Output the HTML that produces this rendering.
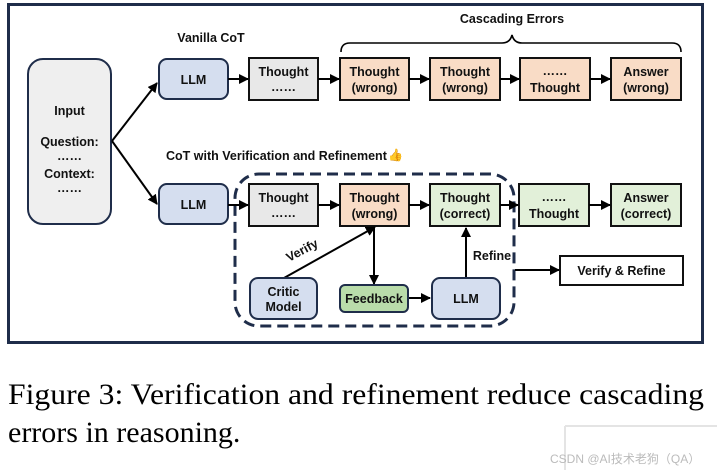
<!DOCTYPE html>
<html><head><meta charset="utf-8"><style>
html,body{margin:0;padding:0;background:#fff;width:717px;height:470px;overflow:hidden}
svg{display:block}
.t{font-family:"Liberation Sans",sans-serif;font-weight:bold;font-size:12.5px;fill:#111;text-anchor:middle}
</style></head><body>
<svg width="717" height="470" viewBox="0 0 717 470" xmlns="http://www.w3.org/2000/svg">
<defs>
<marker id="a" markerWidth="10" markerHeight="10" refX="9" refY="5" orient="auto" markerUnits="userSpaceOnUse">
<path d="M0,0 L10,5 L0,10 z" fill="#000"/></marker>
</defs>
<rect x="8.5" y="4.5" width="694" height="338" fill="#fff" stroke="#1f2d4a" stroke-width="3"/>
<!-- input -->
<rect x="28" y="59" width="83" height="165" rx="15" fill="#efefef" stroke="#1f2d4a" stroke-width="2"/>
<text class="t" x="69.5" y="115">Input</text>
<text class="t" x="69.5" y="146">Question:</text>
<text class="t" x="69.5" y="160">……</text>
<text class="t" x="69.5" y="178">Context:</text>
<text class="t" x="69.5" y="192">……</text>
<line x1="112" y1="141" x2="157" y2="83" stroke="#000" stroke-width="2" marker-end="url(#a)"/>
<line x1="112" y1="141" x2="157" y2="204" stroke="#000" stroke-width="2" marker-end="url(#a)"/>
<text class="t" x="211" y="42">Vanilla CoT</text>
<text class="t" x="512" y="23">Cascading Errors</text>
<path d="M341,52 Q341,43 350,43 L502,43 Q510,43 512,35 Q514,43 522,43 L672,43 Q681,43 681,52" fill="none" stroke="#000" stroke-width="1.6"/>
<!-- top row -->
<rect x="159" y="59" width="69" height="40" rx="8" fill="#d5deef" stroke="#1f2d4a" stroke-width="2"/>
<text class="t" x="193.5" y="84">LLM</text>
<rect x="249" y="58" width="69" height="42" fill="#e8e8e8" stroke="#111" stroke-width="2"/>
<text class="t" x="283.5" y="76">Thought</text><text class="t" x="283.5" y="91">……</text>
<rect x="340" y="58" width="69" height="42" fill="#f9dcc6" stroke="#111" stroke-width="2"/>
<text class="t" x="374.5" y="76">Thought</text><text class="t" x="374.5" y="92">(wrong)</text>
<rect x="430" y="58" width="70" height="42" fill="#f9dcc6" stroke="#111" stroke-width="2"/>
<text class="t" x="465" y="76">Thought</text><text class="t" x="465" y="92">(wrong)</text>
<rect x="520" y="58" width="70" height="42" fill="#f9dcc6" stroke="#111" stroke-width="2"/>
<text class="t" x="555" y="75">……</text><text class="t" x="555" y="92">Thought</text>
<rect x="611" y="58" width="70" height="42" fill="#f9dcc6" stroke="#111" stroke-width="2"/>
<text class="t" x="646" y="76">Answer</text><text class="t" x="646" y="92">(wrong)</text>
<g stroke="#000" stroke-width="2" marker-end="url(#a)">
<line x1="228" y1="79" x2="248" y2="79"/><line x1="318" y1="79" x2="339" y2="79"/>
<line x1="409" y1="79" x2="429" y2="79"/><line x1="500" y1="79" x2="519" y2="79"/>
<line x1="590" y1="79" x2="610" y2="79"/>
</g>
<text class="t" x="166" y="160" style="text-anchor:start">CoT with Verification and Refinement</text>
<text x="388" y="159" font-size="12" font-family="DejaVu Sans,sans-serif" fill="#e8a33a">👍</text>
<!-- bottom -->
<rect x="235" y="174" width="279" height="152" rx="24" fill="none" stroke="#1f2d4a" stroke-width="3" stroke-dasharray="11,6"/>
<rect x="159" y="184" width="69" height="40" rx="8" fill="#d5deef" stroke="#1f2d4a" stroke-width="2"/>
<text class="t" x="193.5" y="209">LLM</text>
<rect x="249" y="184" width="69" height="42" fill="#e8e8e8" stroke="#111" stroke-width="2"/>
<text class="t" x="283.5" y="202">Thought</text><text class="t" x="283.5" y="217">……</text>
<rect x="340" y="184" width="69" height="42" fill="#f9dcc6" stroke="#111" stroke-width="2"/>
<text class="t" x="374.5" y="202">Thought</text><text class="t" x="374.5" y="218">(wrong)</text>
<rect x="430" y="184" width="70" height="42" fill="#e2f0d9" stroke="#111" stroke-width="2"/>
<text class="t" x="465" y="202">Thought</text><text class="t" x="465" y="218">(correct)</text>
<rect x="519" y="184" width="70" height="42" fill="#e2f0d9" stroke="#111" stroke-width="2"/>
<text class="t" x="554" y="201">……</text><text class="t" x="554" y="218">Thought</text>
<rect x="611" y="184" width="70" height="42" fill="#e2f0d9" stroke="#111" stroke-width="2"/>
<text class="t" x="646" y="202">Answer</text><text class="t" x="646" y="218">(correct)</text>
<g stroke="#000" stroke-width="2" marker-end="url(#a)">
<line x1="228" y1="205" x2="248" y2="205"/><line x1="318" y1="205" x2="339" y2="205"/>
<line x1="409" y1="205" x2="429" y2="205"/><line x1="500" y1="205" x2="518" y2="205"/>
<line x1="589" y1="205" x2="610" y2="205"/>
<line x1="284" y1="278" x2="375" y2="227"/>
<line x1="374" y1="227" x2="374" y2="284"/>
<line x1="408" y1="298" x2="430" y2="298"/>
<line x1="466" y1="278" x2="466" y2="228"/>
<line x1="515" y1="270" x2="559" y2="270"/>
</g>
<rect x="250" y="278" width="67" height="41" rx="8" fill="#d5deef" stroke="#1f2d4a" stroke-width="2"/>
<text class="t" x="283.5" y="296">Critic</text><text class="t" x="283.5" y="311">Model</text>
<rect x="340" y="285" width="68" height="27" rx="5" fill="#b9dcaa" stroke="#1f2d4a" stroke-width="2"/>
<text class="t" x="374" y="303">Feedback</text>
<rect x="432" y="278" width="68" height="41" rx="8" fill="#d5deef" stroke="#1f2d4a" stroke-width="2"/>
<text class="t" x="466" y="303">LLM</text>
<text class="t" x="304" y="254" transform="rotate(-28 304 254)">Verify</text>
<text class="t" x="492" y="260">Refine</text>
<rect x="560" y="256" width="123" height="29" fill="#fff" stroke="#111" stroke-width="2"/>
<text class="t" x="621.5" y="275">Verify &amp; Refine</text>
<!-- caption -->
<text x="8" y="404" font-family="Liberation Serif,serif" font-size="30" fill="#000" textLength="696" lengthAdjust="spacingAndGlyphs">Figure 3:  Verification and refinement reduce cascading</text>
<text x="8" y="442" font-family="Liberation Serif,serif" font-size="30" fill="#000">errors in reasoning.</text>
<rect x="565" y="426" width="152" height="44" fill="#fff"/>
<line x1="565" y1="426" x2="717" y2="426" stroke="#e4e4e4" stroke-width="2"/>
<line x1="565" y1="426" x2="565" y2="470" stroke="#e4e4e4" stroke-width="2"/>
<text x="550" y="463" font-family="Liberation Sans,'Noto Sans CJK SC',sans-serif" font-size="12" fill="#bbb">CSDN @AI技术老狗（QA）</text>
</svg>
</body></html>
